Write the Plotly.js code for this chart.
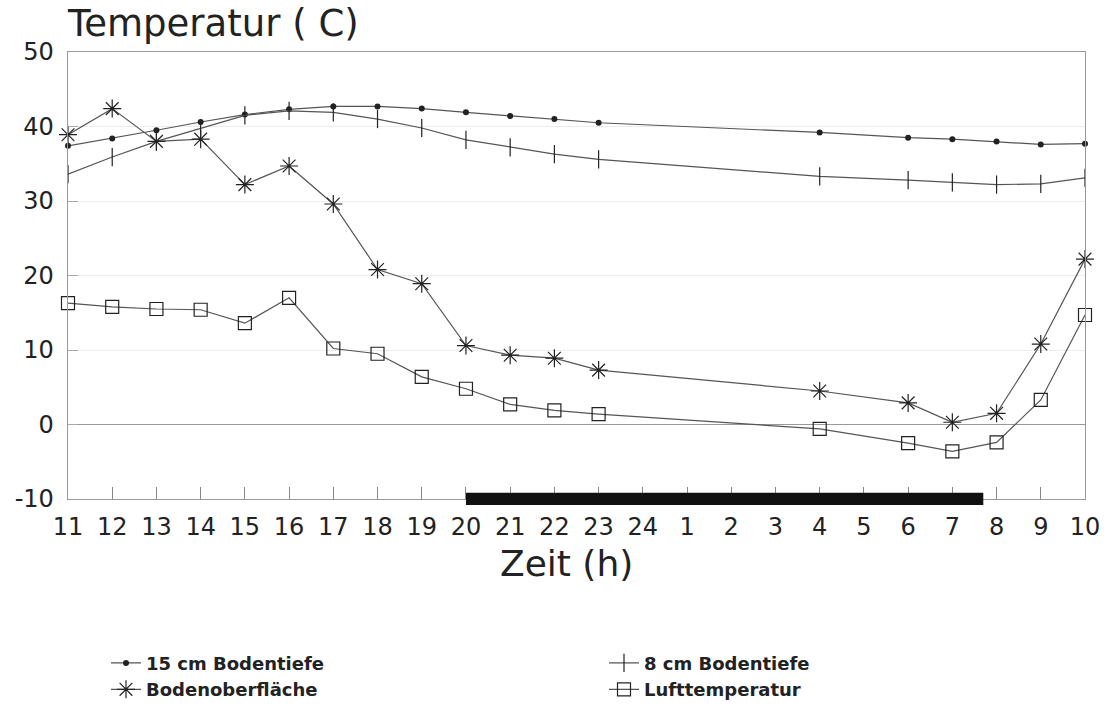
<!DOCTYPE html>
<html>
<head>
<meta charset="utf-8">
<script src="https://cdn.plot.ly/plotly-3.0.1.min.js"></script>
<style>html,body{margin:0;padding:0;background:#fff;}#chart{width:1112px;height:706px;}</style>
</head>
<body>
<div id="chart"></div>
<script>
// Axis categories (hours of the day)
var hourLabels = ['11','12','13','14','15','16','17','18','19','20','21','22','23','24','1','2','3','4','5','6','7','8','9','10'];
// Hours at which measurements were taken
var measHours = ['11','12','13','14','15','16','17','18','19','20','21','22','23','4','6','7','8','9','10'];

var boden15 = [37.4, 38.4, 39.5, 40.6, 41.6, 42.3, 42.7, 42.7, 42.4, 41.9, 41.4, 41.0, 40.5, 39.2, 38.5, 38.3, 38.0, 37.6, 37.7];
var boden8  = [33.6, 35.9, 38.0, 39.8, 41.5, 42.1, 41.9, 41.0, 39.8, 38.2, 37.2, 36.3, 35.6, 33.3, 32.8, 32.5, 32.2, 32.3, 33.1];
var oberfl  = [38.9, 42.4, 38.0, 38.3, 32.2, 34.7, 29.6, 20.8, 18.9, 10.6, 9.3, 8.9, 7.3, 4.5, 2.9, 0.3, 1.5, 10.8, 22.2];
var luft    = [16.3, 15.8, 15.5, 15.4, 13.6, 17.0, 10.2, 9.5, 6.4, 4.8, 2.7, 1.9, 1.4, -0.6, -2.5, -3.6, -2.4, 3.3, 14.7];

var seriesNames = ['15 cm Bodentiefe', '8 cm Bodentiefe', 'Bodenoberfläche', 'Lufttemperatur'];

var yTickVals = [-10, 0, 10, 20, 30, 40, 50];
var yTickText = ['-10', '0', '10', '20', '30', '40', '50'];

var xTitle = 'Zeit (h)';
var yTitle = 'Temperatur ( C)';

// Night period (dark bar on the time axis), as category positions
var nightStart = 9;     // 20 h
var nightEnd = 20.7;    // shortly before 8 h

var lineCol = '#555';
var markCol = '#222';

function tr(name, y, sym, size, width, leg, grp) {
  return {
    type: 'scatter', mode: 'lines+markers', name: name,
    x: measHours, y: y, cliponaxis: false,
    legend: leg, legendgroup: grp,
    line: {color: lineCol, width: 1.2},
    marker: {symbol: sym, size: size, color: markCol, line: {color: markCol, width: width}}
  };
}

var data = [
  tr(seriesNames[0], boden15, 'circle', 6, 0, 'legend', 'a'),
  tr(seriesNames[1], boden8, 'line-ns-open', 13, 1.2, 'legend2', 'b'),
  tr(seriesNames[2], oberfl, 'asterisk-open', 15, 1.2, 'legend', 'c'),
  tr(seriesNames[3], luft, 'square-open', 13, 1.2, 'legend2', 'd')
];

var PL = 68, PW = 1017, PB = 499, PH = 447;
var legFont = {family: 'DejaVu Sans', size: 18, color: '#222', weight: 'bold'};

var layout = {
  width: 1112, height: 706,
  margin: {l: 68, r: 27, t: 52, b: 207, autoexpand: false},
  paper_bgcolor: '#fff', plot_bgcolor: '#fff',
  font: {family: 'DejaVu Sans', color: '#222'},
  title: {
    text: yTitle,
    font: {family: 'DejaVu Sans', size: 37, color: '#222'},
    x: 68/1112, xanchor: 'left', xref: 'container',
    y: 1 - 23/706, yanchor: 'middle', yref: 'container'
  },
  xaxis: {
    type: 'category', categoryorder: 'array', categoryarray: hourLabels,
    range: [0, 23], fixedrange: true,
    showline: true, linecolor: '#999', linewidth: 1.3, mirror: true,
    showgrid: false, zeroline: false,
    ticks: 'inside', ticklen: 12, tickcolor: '#888', tickwidth: 1,
    tickfont: {family: 'DejaVu Sans', size: 24, color: '#222'},
    ticklabelstandoff: 6
  },
  yaxis: {
    range: [-10, 50], tickvals: yTickVals, ticktext: yTickText,
    showline: true, linecolor: '#999', linewidth: 1.3, mirror: true,
    showgrid: true, gridcolor: '#ececec', gridwidth: 1,
    zeroline: true, zerolinecolor: '#999', zerolinewidth: 1.3,
    ticks: 'inside', ticklen: 10, tickcolor: '#aaa',
    tickfont: {family: 'DejaVu Sans', size: 24, color: '#222'},
    ticklabelstandoff: 8
  },
  annotations: [{
    text: xTitle, xref: 'paper', yref: 'paper',
    x: (566 - PL)/PW, y: (PB - 563)/PH, xanchor: 'center', yanchor: 'middle',
    showarrow: false, font: {family: 'DejaVu Sans', size: 36, color: '#222'}
  }],
  shapes: [{
    type: 'rect', xref: 'x', yref: 'paper',
    x0: nightStart, x1: nightEnd, y0: -0.0134, y1: 0.014,
    fillcolor: '#111', line: {width: 0}, layer: 'above'
  }],
  showlegend: true,
  legend: {
    orientation: 'v', x: (106 - PL)/PW, xanchor: 'left', xref: 'paper',
    y: -0.326, yanchor: 'top', tracegroupgap: 2,
    font: legFont, bgcolor: 'rgba(0,0,0,0)', traceorder: 'normal'
  },
  legend2: {
    orientation: 'v', x: (604 - PL)/PW, xanchor: 'left', xref: 'paper',
    y: -0.326, yanchor: 'top', tracegroupgap: 2,
    font: legFont, bgcolor: 'rgba(0,0,0,0)', traceorder: 'normal'
  }
};

Plotly.newPlot('chart', data, layout, {displayModeBar: false, staticPlot: true});
</script>
</body>
</html>
